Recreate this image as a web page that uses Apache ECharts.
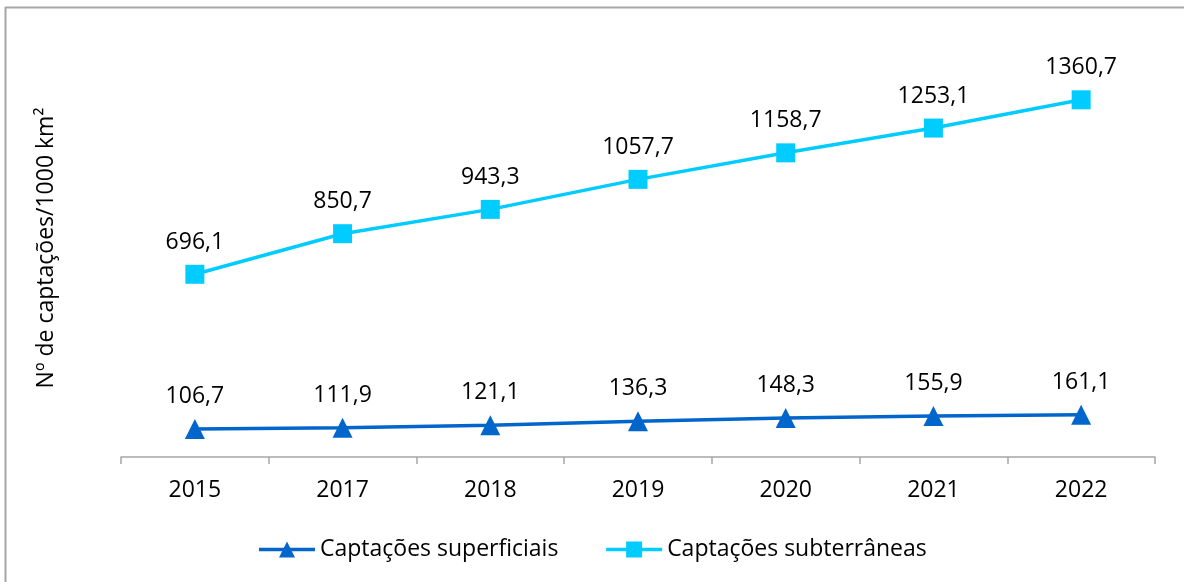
<!DOCTYPE html>
<html>
<head>
<meta charset="utf-8">
<script src="https://cdn.jsdelivr.net/npm/echarts@6/dist/echarts.min.js"></script>
<style>html,body{margin:0;padding:0;background:#fff}#c{width:1184px;height:582px}</style>
</head>
<body>
<div id="c"></div>
<script>
const categories = ['2015','2017','2018','2019','2020','2021','2022'];
const superficiais = [106.7,111.9,121.1,136.3,148.3,155.9,161.1];
const subterraneas = [696.1,850.7,943.3,1057.7,1158.7,1253.1,1360.7];
const seriesNames = ['Captações superficiais','Captações subterrâneas'];
const yTitle = 'Nº de captações/1000 km²';

const FONT = '"Open Sans", "Liberation Sans", sans-serif';
const FS = 23;
const fmt = p => p.value.toFixed(1).replace('.', ',');
const chart = echarts.init(document.getElementById('c'));
chart.setOption({
  animation: false,
  backgroundColor: '#fff',
  graphic: [
    {type:'line', shape:{x1:5.5,y1:7,x2:5.5,y2:582}, style:{stroke:'#a6a6a6',lineWidth:2}},
    {type:'line', shape:{x1:5,y1:7.5,x2:1184,y2:7.5}, style:{stroke:'#a6a6a6',lineWidth:2}},
    {type:'text', rotation:Math.PI/2, x:46, y:248, style:{text:yTitle, font:FS+'px '+FONT, fill:'#000', align:'center', verticalAlign:'middle'}}
  ],
  grid: {left:121, right:29, top:37, bottom:125},
  legend: {
    bottom: 16, left: 'center', itemGap: 46, itemWidth: 56, itemHeight: 20,
    lineStyle: {width: 3.5},
    textStyle: {fontFamily: FONT, fontSize: FS, color: '#000'},
    data: seriesNames
  },
  xAxis: {
    type: 'category', data: categories, boundaryGap: true,
    axisLine: {lineStyle: {color: '#a6a6a6', width: 1.5}},
    axisTick: {show: true, length: 7, lineStyle: {color: '#a6a6a6', width: 1.5}},
    axisLabel: {fontFamily: FONT, fontSize: FS, color: '#000', margin: 22}
  },
  yAxis: {
    type: 'value', min: 0, max: 1600, interval: 200,
    axisLine: {show: false}, axisTick: {show: false}, axisLabel: {show: false}, splitLine: {show: false}
  },
  series: [
    {
      name: seriesNames[0], type: 'line', data: superficiais,
      symbol: 'triangle', symbolSize: 20,
      lineStyle: {color: '#0066cc', width: 3.5}, itemStyle: {color: '#0066cc'},
      label: {show: true, position: 'top', distance: 11, formatter: fmt, fontFamily: FONT, fontSize: FS, color: '#000'}
    },
    {
      name: seriesNames[1], type: 'line', data: subterraneas,
      symbol: 'rect', symbolSize: 19,
      lineStyle: {color: '#00ccff', width: 3.5}, itemStyle: {color: '#00ccff'},
      label: {show: true, position: 'top', distance: 11, formatter: fmt, fontFamily: FONT, fontSize: FS, color: '#000'}
    }
  ]
});
</script>
</body>
</html>
